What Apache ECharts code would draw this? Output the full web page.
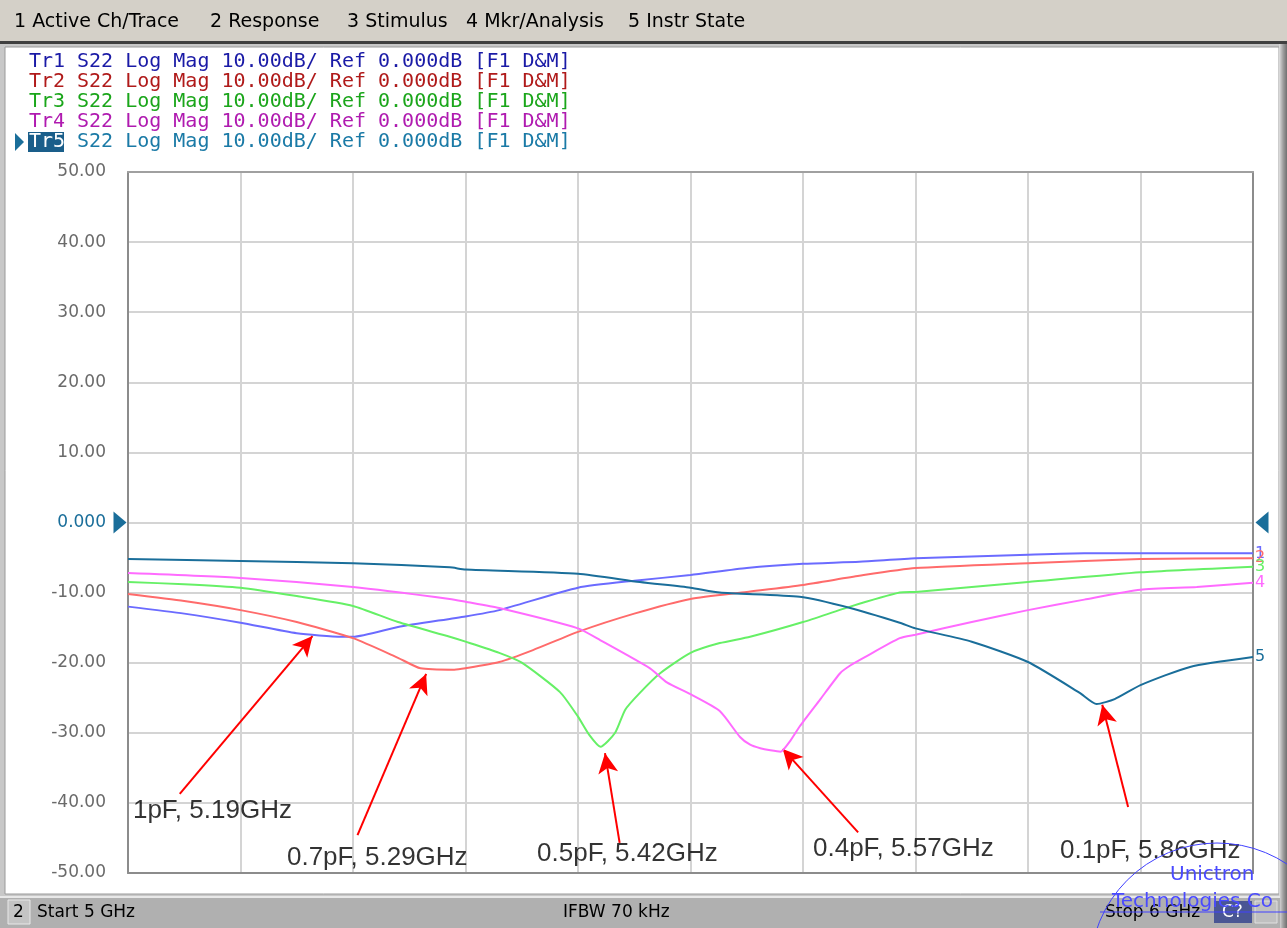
<!DOCTYPE html>
<html>
<head>
<meta charset="utf-8">
<script src="https://cdn.jsdelivr.net/npm/echarts@6/dist/echarts.min.js"></script>
<style>
html,body{margin:0;padding:0;background:#ffffff;}
#chart{width:1287px;height:928px;}
</style>
</head>
<body>
<div id="chart"></div>
<script>
// ---- data (frequency in GHz, magnitude in dB) ----
var tr1Freq = [5.00, 5.05, 5.10, 5.15, 5.19, 5.20, 5.24, 5.30, 5.33, 5.40, 5.45, 5.50, 5.55, 5.60, 5.65, 5.70, 5.80, 5.85, 6.00];
var tr1Mag  = [-12.0, -13.0, -14.3, -15.8, -16.3, -16.3, -14.9, -13.4, -12.5, -9.3, -8.3, -7.5, -6.5, -5.9, -5.6, -5.1, -4.6, -4.4, -4.4];

var tr2Freq = [5.00, 5.05, 5.10, 5.15, 5.20, 5.24, 5.26, 5.29, 5.30, 5.33, 5.36, 5.40, 5.45, 5.50, 5.55, 5.60, 5.65, 5.70, 5.80, 5.90, 6.00];
var tr2Mag  = [-10.2, -11.2, -12.5, -14.2, -16.5, -19.3, -20.8, -21.0, -20.8, -19.9, -18.2, -15.6, -13.0, -10.9, -9.9, -8.9, -7.6, -6.5, -5.8, -5.2, -5.1];

var tr3Freq = [5.00, 5.05, 5.10, 5.15, 5.20, 5.24, 5.286, 5.30, 5.33, 5.35, 5.384, 5.40, 5.41, 5.42, 5.433, 5.442, 5.455, 5.473, 5.50, 5.526, 5.553, 5.60, 5.642, 5.686, 5.70, 5.80, 5.90, 6.00];
var tr3Mag  = [-8.5, -8.8, -9.3, -10.5, -11.9, -14.2, -16.3, -17.0, -18.6, -20.0, -24.2, -27.7, -30.3, -32.0, -30.0, -26.7, -24.3, -21.5, -18.6, -17.2, -16.3, -14.2, -12.0, -10.0, -9.9, -8.5, -7.1, -6.3];

var tr4Freq = [5.00, 5.10, 5.20, 5.286, 5.30, 5.33, 5.40, 5.42, 5.464, 5.479, 5.50, 5.526, 5.544, 5.553, 5.562, 5.571, 5.58, 5.588, 5.597, 5.615, 5.633, 5.642, 5.655, 5.686, 5.70, 5.75, 5.80, 5.85, 5.90, 5.95, 6.00];
var tr4Mag  = [-7.2, -7.9, -9.2, -10.9, -11.3, -12.2, -15.1, -16.8, -20.8, -22.8, -24.5, -26.9, -30.6, -31.7, -32.2, -32.5, -32.7, -31.3, -29.1, -25.3, -21.5, -20.4, -19.2, -16.5, -16.0, -14.2, -12.5, -11.0, -9.6, -9.2, -8.6];

var tr5Freq = [5.00, 5.10, 5.20, 5.286, 5.30, 5.40, 5.455, 5.50, 5.526, 5.597, 5.642, 5.686, 5.70, 5.75, 5.80, 5.846, 5.861, 5.877, 5.90, 5.944, 6.00];
var tr5Mag  = [-5.2, -5.5, -5.8, -6.4, -6.7, -7.3, -8.5, -9.3, -10.0, -10.6, -12.2, -14.3, -15.1, -17.0, -19.9, -24.3, -25.9, -25.2, -23.2, -20.6, -19.2];

var traceNames = ['Tr1', 'Tr2', 'Tr3', 'Tr4', 'Tr5'];
var traceEndLabels = ['1', '2', '3', '4', '5'];
var headerText = 'S22 Log Mag 10.00dB/ Ref 0.000dB [F1 D&M]';

var yTicks = [-50, -40, -30, -20, -10, 0, 10, 20, 30, 40, 50];

// annotations: text, text anchor (freq, dB), arrow tail (freq, dB), arrow tip (freq, dB)
var annoText = ['1pF, 5.19GHz', '0.7pF, 5.29GHz', '0.5pF, 5.42GHz', '0.4pF, 5.57GHz', '0.1pF, 5.86GHz'];
var annoTextAt = [[5.0044, -41.2], [5.1413, -47.9], [5.3636, -47.2], [5.6089, -46.6], [5.8284, -46.9]];
var arrowTail = [[5.046, -38.7], [5.204, -44.6], [5.437, -45.7], [5.649, -44.2], [5.889, -40.6]];
var arrowTip  = [[5.164, -16.2], [5.265, -21.6], [5.424, -32.9], [5.582, -32.3], [5.866, -26.0]];

var menuItems = ['1 Active Ch/Trace', '2 Response', '3 Stimulus', '4 Mkr/Analysis', '5 Instr State'];

// ---- styles ----
var lineColors = ['#6b6bff', '#ff6b6b', '#66f066', '#ff6bff', '#1a6e9a'];
var headColors = ['#1a1aa6', '#b01a1a', '#1aa61a', '#b01ab0', '#1a7aa6'];
var menuX = [14, 210, 347, 466, 628];

function zip(a, b) { return a.map(function (v, i) { return [v, b[i]]; }); }
var freqs = [tr1Freq, tr2Freq, tr3Freq, tr4Freq, tr5Freq];
var mags = [tr1Mag, tr2Mag, tr3Mag, tr4Mag, tr5Mag];

var chart = echarts.init(document.getElementById('chart'), null, {renderer: 'canvas'});

var series = [];
for (var i = 0; i < 5; i++) {
  series.push({
    name: traceNames[i],
    type: 'line',
    data: zip(freqs[i], mags[i]),
    showSymbol: false,
    symbol: 'none',
    smooth: 0.2,
    lineStyle: {color: lineColors[i], width: 2},
    itemStyle: {color: lineColors[i]},
    z: 3 + i,
    endLabel: {
      show: true,
      formatter: traceEndLabels[i],
      color: lineColors[i],
      fontSize: 16,
      fontFamily: 'DejaVu Sans',
      distance: 2
    }
  });
}

// arrows
series.push({
  type: 'line',
  data: [],
  z: 20,
  markLine: {
    silent: true,
    animation: false,
    symbol: ['none', 'arrow'],
    symbolSize: [15, 20],
    lineStyle: {color: '#ff0000', width: 2, type: 'solid'},
    label: {show: false},
    data: arrowTail.map(function (t, i) {
      return [{coord: t}, {coord: arrowTip[i]}];
    })
  }
});

// annotation texts
series.push({
  type: 'scatter',
  symbolSize: 0,
  z: 21,
  data: annoTextAt.map(function (p, i) { return {value: p, name: annoText[i]}; }),
  label: {
    show: true,
    position: 'right',
    distance: 0,
    formatter: function (p) { return p.name; },
    color: '#000000',
    fontSize: 26,
    fontFamily: 'Liberation Sans, Arial, sans-serif'
  }
});

// reference-level markers at 0 dB
series.push({
  type: 'line',
  data: [],
  z: 22,
  markPoint: {
    silent: true,
    animation: false,
    label: {show: false},
    data: [
      {coord: [5, 0], symbol: 'path://M0,0 L13,11 L0,22 Z', symbolSize: [13, 22], symbolOffset: [-8, 0], itemStyle: {color: '#1a6e9a'}},
      {coord: [6, 0], symbol: 'path://M13,0 L0,11 L13,22 Z', symbolSize: [13, 22], symbolOffset: [9, 0], itemStyle: {color: '#1a6e9a'}}
    ]
  }
});

var graphics = [];
// menu bar
graphics.push({type: 'rect', shape: {x: 0, y: 0, width: 1287, height: 41}, style: {fill: '#d4d0c8'}, z: -20});
graphics.push({type: 'rect', shape: {x: 0, y: 41, width: 1287, height: 3}, style: {fill: '#404040'}, z: -19});
graphics.push({type: 'rect', shape: {x: 0, y: 44, width: 1287, height: 884}, style: {fill: '#c8c8c8'}, z: -20});
// main white panel
graphics.push({type: 'rect', shape: {x: 5, y: 47, width: 1274, height: 847}, style: {fill: '#ffffff', stroke: '#9a9a9a', lineWidth: 1}, z: -18});
// right edge bar
graphics.push({type: 'rect', shape: {x: 1279, y: 44, width: 8, height: 884}, style: {fill: new echarts.graphic.LinearGradient(0, 0, 1, 0, [{offset: 0, color: '#e0e0e0'}, {offset: 0.5, color: '#a0a0a0'}, {offset: 1, color: '#707070'}])}, z: -17});
// status bar
graphics.push({type: 'rect', shape: {x: 0, y: 896, width: 1280, height: 32}, style: {fill: '#b0b0b0'}, z: -17});
graphics.push({type: 'rect', shape: {x: 0, y: 896, width: 1280, height: 2}, style: {fill: '#e8e8e8'}, z: -16});
graphics.push({type: 'rect', shape: {x: 8, y: 900, width: 22, height: 24}, style: {fill: '#c4c4c4', stroke: '#e8e8e8', lineWidth: 1}, z: -15});
graphics.push({type: 'rect', shape: {x: 1214, y: 901, width: 38, height: 22}, style: {fill: '#4a5694'}, z: -15});
graphics.push({type: 'rect', shape: {x: 1255, y: 901, width: 22, height: 22}, style: {fill: '#c0c0c0', stroke: '#e0e0e0', lineWidth: 1}, z: -15});

menuItems.forEach(function (t, i) {
  graphics.push({type: 'text', x: menuX[i], y: 22, style: {text: t, fill: '#000000', font: '19px "DejaVu Sans", sans-serif', textVerticalAlign: 'middle'}, z: 5});
});

var sFont = '17px "DejaVu Sans", sans-serif';
graphics.push({type: 'text', x: 13, y: 913, style: {text: '2', fill: '#000', font: sFont, textVerticalAlign: 'middle'}, z: 5});
graphics.push({type: 'text', x: 37, y: 913, style: {text: 'Start 5 GHz', fill: '#000', font: sFont, textVerticalAlign: 'middle'}, z: 5});
graphics.push({type: 'text', x: 563, y: 913, style: {text: 'IFBW 70 kHz', fill: '#000', font: sFont, textVerticalAlign: 'middle'}, z: 5});
graphics.push({type: 'text', x: 1105, y: 913, style: {text: 'Stop 6 GHz', fill: '#000', font: sFont, textVerticalAlign: 'middle'}, z: 5});
graphics.push({type: 'text', x: 1222, y: 913, style: {text: 'C?', fill: '#ffffff', font: sFont, textVerticalAlign: 'middle'}, z: 5});

// trace header lines
var hFont = '20px "DejaVu Sans Mono", monospace';
for (var k = 0; k < 5; k++) {
  var yy = 62 + k * 20;
  if (k === 4) {
    graphics.push({type: 'rect', shape: {x: 28, y: yy - 10, width: 36, height: 20}, style: {fill: '#1a5e8a'}, z: 4});
    graphics.push({type: 'polygon', shape: {points: [[15, yy - 9], [24, yy], [15, yy + 9]]}, style: {fill: '#1a6e9a'}, z: 4});
  }
  graphics.push({type: 'text', x: 29, y: yy, style: {text: traceNames[k], fill: k === 4 ? '#ffffff' : headColors[k], font: hFont, textVerticalAlign: 'middle'}, z: 5});
  graphics.push({type: 'text', x: 77, y: yy, style: {text: headerText, fill: headColors[k], font: hFont, textVerticalAlign: 'middle'}, z: 5});
}

// watermark
graphics.push({type: 'circle', shape: {cx: 1217, cy: 970, r: 127}, style: {fill: 'none', stroke: '#4040ff', lineWidth: 1}, z: 50});
graphics.push({type: 'line', shape: {x1: 1100, y1: 912, x2: 1287, y2: 912}, style: {stroke: '#4040ff', lineWidth: 1}, z: 50});
graphics.push({type: 'text', x: 1170, y: 875, style: {text: 'Unictron', fill: '#4a4aff', font: '20px "DejaVu Sans", sans-serif', textVerticalAlign: 'middle'}, z: 50});
graphics.push({type: 'text', x: 1112, y: 902, style: {text: 'Technologies Co', fill: '#4a4aff', font: '20px "DejaVu Sans", sans-serif', textVerticalAlign: 'middle'}, z: 50});

var option = {
  animation: false,
  backgroundColor: 'transparent',
  grid: {left: 128, right: 34, top: 172, bottom: 55, show: false},
  xAxis: [
    {
      type: 'value', min: 5, max: 6, interval: 0.1,
      axisLabel: {show: false}, axisTick: {show: false},
      axisLine: {show: true, onZero: false, lineStyle: {color: '#8c8c8c', width: 2}},
      splitLine: {show: true, lineStyle: {color: '#d4d4d4', width: 2}}
    },
    {
      type: 'value', position: 'top', min: 5, max: 6, interval: 0.1,
      axisLabel: {show: false}, axisTick: {show: false},
      axisLine: {show: true, onZero: false, lineStyle: {color: '#a0a0a0', width: 2}},
      splitLine: {show: false}
    }
  ],
  yAxis: [
    {
      type: 'value', min: -50, max: 50, interval: 10,
      axisTick: {show: false},
      axisLine: {show: true, onZero: false, lineStyle: {color: '#8c8c8c', width: 2}},
      splitLine: {show: true, lineStyle: {color: '#d4d4d4', width: 2}},
      axisLabel: {
        margin: 22,
        fontSize: 17,
        fontFamily: 'DejaVu Sans',
        formatter: function (v) { return v === 0 ? '0.000' : v.toFixed(2); },
        color: function (v) { return Number(v) === 0 ? '#1a6e9a' : '#6a6a6a'; }
      }
    },
    {
      type: 'value', position: 'right', min: -50, max: 50, interval: 10,
      axisLabel: {show: false}, axisTick: {show: false},
      axisLine: {show: true, onZero: false, lineStyle: {color: '#8c8c8c', width: 2}},
      splitLine: {show: false}
    }
  ],
  graphic: graphics,
  series: series
};
chart.setOption(option);
</script>
</body>
</html>
